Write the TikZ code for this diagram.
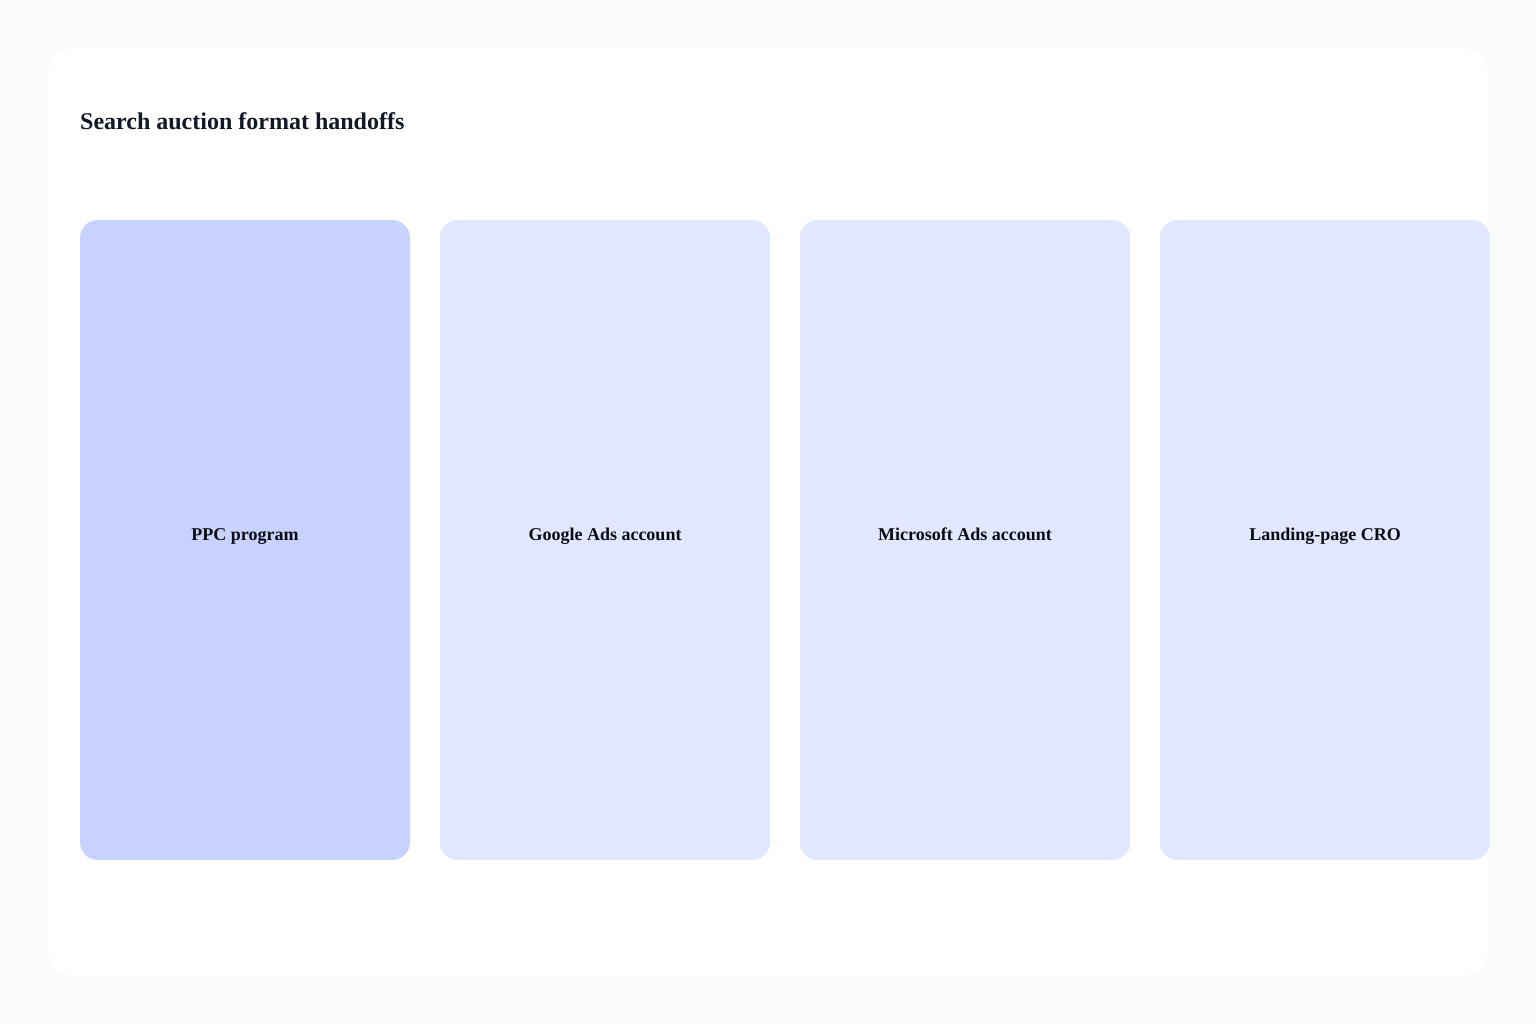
\documentclass[tikz,border=0pt]{standalone}
\usepackage{fontspec}
\setmainfont{Liberation Serif}
\definecolor{bgc}{HTML}{F8FAFC}
\definecolor{cardA}{HTML}{C7D2FE}
\definecolor{cardB}{HTML}{E0E7FF}
\definecolor{titlec}{HTML}{111827}
\definecolor{labelc}{HTML}{0B0B12}
\tikzset{
  card/.style={fill=#1, draw=none, rounded corners=18pt, inner sep=0pt},
  cardlabel/.style={anchor=base, inner sep=0pt, font=\fontsize{18pt}{21pt}\selectfont\bfseries, text=labelc},
}
\begin{document}
\begin{tikzpicture}[x=1pt,y=-1pt]
\useasboundingbox (0,0) rectangle (1536,1024);
\fill[bgc] (0,0) rectangle (1536,1024);
\fill[white, rounded corners=26pt] (48,48) rectangle (1488,976);
\node[anchor=base west, inner sep=0pt, text=titlec, font=\fontsize{24pt}{28pt}\selectfont\bfseries] (title) at (80,130) {Search auction format handoffs};
\draw[card=cardA] (80,220) rectangle (410,860);
\draw[card=cardB] (440,220) rectangle (770,860);
\draw[card=cardB] (800,220) rectangle (1130,860);
\draw[card=cardB] (1160,220) rectangle (1490,860);
\node[cardlabel] (ppc) at (245,540) {PPC program};
\node[cardlabel] (google) at (605,540) {Google Ads account};
\node[cardlabel] (microsoft) at (965,540) {Microsoft Ads account};
\node[cardlabel] (cro) at (1325,540) {Landing-page CRO};
\end{tikzpicture}
\end{document}
